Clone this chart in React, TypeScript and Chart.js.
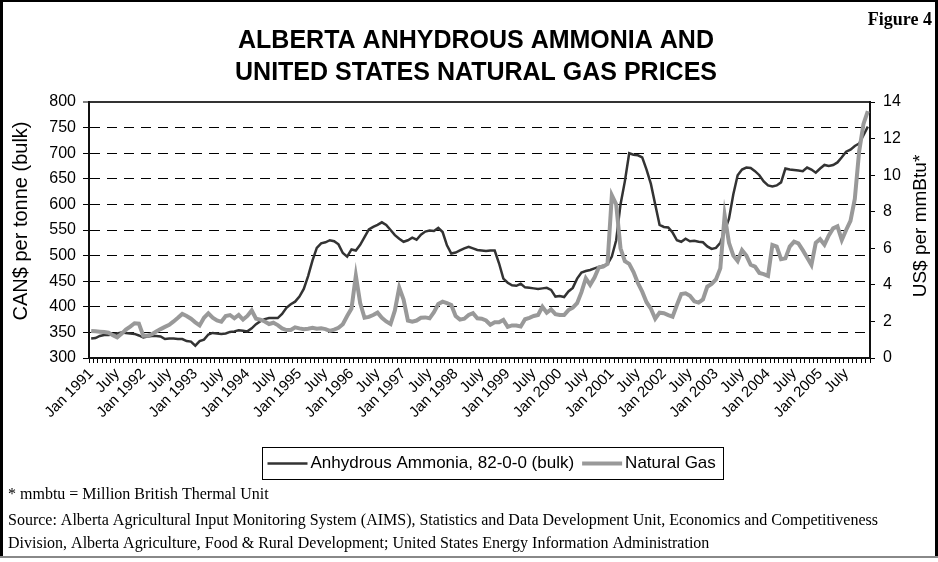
import React, { useEffect, useRef } from 'react';
import { Chart, registerables } from 'chart.js';

Chart.register(...registerables);

const W = 938;
const H = 562;

const YEARS = [1991, 1992, 1993, 1994, 1995, 1996, 1997, 1998, 1999, 2000, 2001, 2002, 2003, 2004, 2005];
const MONTHS = ['Jan', 'Feb', 'Mar', 'Apr', 'May', 'Jun', 'July', 'Aug', 'Sep', 'Oct', 'Nov', 'Dec'];
const CATEGORIES = YEARS.flatMap((y) => MONTHS.map((m) => `${m} ${y}`));

// Anhydrous Ammonia, CAN$ per tonne (bulk), monthly Jan 1991 - Dec 2005
const AMMONIA = [
  338, 339, 343, 345, 345, 346, 348, 350, 349, 348, 347, 344, // 1991
  340, 342, 343, 343, 342, 337, 338, 338, 337, 337, 333, 332, // 1992
  324, 333, 336, 346, 349, 348, 347, 348, 351, 352, 354, 353, // 1993
  352, 358, 366, 372, 376, 378, 378, 378, 386, 398, 405, 410, // 1994
  420, 435, 460, 490, 515, 524, 526, 530, 528, 522, 505, 498, // 1995
  512, 510, 521, 536, 551, 556, 560, 565, 560, 550, 540, 533, // 1996
  527, 530, 535, 531, 541, 547, 549, 548, 554, 546, 520, 504, // 1997
  506, 510, 514, 517, 514, 511, 510, 509, 510, 510, 485, 455, // 1998
  447, 442, 441, 445, 438, 437, 436, 435, 436, 437, 433, 420, // 1999
  421, 419, 430, 437, 455, 467, 470, 472, 475, 478, 480, 483, // 2000
  498, 530, 600, 645, 700, 697, 696, 692, 668, 640, 600, 560, // 2001
  556, 555, 545, 530, 527, 533, 528, 529, 527, 526, 518, 513, // 2002
  515, 525, 548, 572, 620, 657, 668, 672, 671, 665, 657, 645, // 2003
  637, 635, 637, 643, 670, 668, 667, 666, 665, 672, 668, 662, // 2004
  670, 677, 675, 677, 682, 692, 703, 707, 714, 719, 735, 752, // 2005
];

// Natural Gas, US$ per mmBtu, monthly Jan 1991 - Dec 2005
const GAS = [
  1.48, 1.46, 1.44, 1.42, 1.38, 1.25, 1.13, 1.32, 1.55, 1.72, 1.9, 1.88, // 1991
  1.22, 1.22, 1.3, 1.45, 1.58, 1.7, 1.81, 2.0, 2.2, 2.41, 2.3, 2.15, // 1992
  1.95, 1.78, 2.2, 2.44, 2.2, 2.05, 1.98, 2.3, 2.35, 2.17, 2.35, 2.1, // 1993
  2.3, 2.6, 2.15, 2.1, 2.0, 1.86, 1.93, 1.8, 1.62, 1.53, 1.53, 1.68, // 1994
  1.62, 1.57, 1.6, 1.65, 1.6, 1.62, 1.58, 1.48, 1.55, 1.65, 1.85, 2.3, // 1995
  2.7, 4.5, 3.0, 2.2, 2.25, 2.35, 2.48, 2.2, 2.0, 1.86, 2.6, 3.85, // 1996
  3.2, 2.05, 1.99, 2.05, 2.2, 2.22, 2.17, 2.5, 2.95, 3.08, 3.0, 2.9, // 1997
  2.3, 2.1, 2.15, 2.35, 2.45, 2.17, 2.15, 2.05, 1.82, 1.95, 1.95, 2.08, // 1998
  1.7, 1.78, 1.78, 1.72, 2.12, 2.2, 2.3, 2.35, 2.8, 2.48, 2.66, 2.4, // 1999
  2.35, 2.35, 2.62, 2.75, 3.0, 3.6, 4.36, 4.0, 4.4, 4.95, 5.0, 5.15, // 2000
  8.9, 8.4, 6.0, 5.3, 5.15, 4.7, 4.1, 3.63, 3.05, 2.7, 2.15, 2.48, // 2001
  2.45, 2.35, 2.26, 2.9, 3.5, 3.54, 3.4, 3.1, 3.03, 3.2, 3.9, 4.05, // 2002
  4.3, 4.9, 7.8, 6.3, 5.6, 5.3, 5.9, 5.6, 5.1, 5.0, 4.65, 4.59, // 2003
  4.49, 6.18, 6.09, 5.4, 5.45, 6.09, 6.36, 6.27, 5.9, 5.5, 5.09, 6.3, // 2004
  6.5, 6.2, 6.7, 7.09, 7.2, 6.45, 7.0, 7.5, 8.7, 11.3, 12.8, 13.5, // 2005
];

const LEFT_MIN = 300;
const LEFT_MAX = 800;
const LEFT_STEP = 50;
const RIGHT_MIN = 0;
const RIGHT_MAX = 14;
const RIGHT_STEP = 2;

const TITLE_LINES = ['ALBERTA ANHYDROUS AMMONIA AND', 'UNITED STATES NATURAL GAS PRICES'];
const FIGURE_LABEL = 'Figure 4';
const LEFT_AXIS_TITLE = 'CAN$ per tonne (bulk)';
const RIGHT_AXIS_TITLE = 'US$ per mmBtu*';
const SERIES_NAMES = ['Anhydrous Ammonia, 82-0-0 (bulk)', 'Natural Gas'];
const FOOTNOTES = [
  '* mmbtu = Million British Thermal Unit',
  'Source: Alberta Agricultural Input Monitoring System (AIMS), Statistics and Data Development Unit, Economics and Competitiveness',
  'Division, Alberta Agriculture, Food & Rural Development; United States Energy Information Administration',
];

const AMMONIA_COLOR = '#333333';
const GAS_COLOR = '#999999';
const SANS = '"Liberation Sans", Arial, Helvetica, sans-serif';
const SERIF = '"Liberation Serif", "Times New Roman", serif';

function tickLabel(index: number): string {
  const m = index % 12;
  const y = YEARS[Math.floor(index / 12)];
  if (m === 0) return `Jan ${y}`;
  if (m === 6) return 'July';
  return '';
}

type TextOpts = {
  align?: CanvasTextAlign;
  baseline?: CanvasTextBaseline;
  rotate?: number;
  width?: number;
  color?: string;
};

function drawText(ctx: CanvasRenderingContext2D, text: string, x: number, y: number, font: string, o: TextOpts = {}) {
  ctx.save();
  ctx.font = font;
  ctx.fillStyle = o.color || '#000';
  ctx.textAlign = o.align || 'left';
  ctx.textBaseline = o.baseline || 'middle';
  ctx.translate(x, y);
  if (o.rotate) ctx.rotate(o.rotate);
  if (o.width) {
    const w = ctx.measureText(text).width;
    if (w > 0) ctx.scale(o.width / w, 1);
  }
  ctx.fillText(text, 0, 0);
  ctx.restore();
}

const decorPlugin = {
  id: 'decor',
  beforeDraw(chart: any) {
    const ctx = chart.ctx as CanvasRenderingContext2D;
    ctx.save();
    ctx.fillStyle = '#ffffff';
    ctx.fillRect(0, 0, chart.width, chart.height);
    ctx.restore();
  },
  afterDraw(chart: any) {
    const ctx = chart.ctx as CanvasRenderingContext2D;
    ctx.save();
    ctx.fillStyle = '#000';
    ctx.fillRect(0, 0, 3, 558);
    ctx.fillRect(0, 0, W, 2);
    ctx.fillRect(W - 3, 0, 3, 558);
    ctx.fillStyle = '#888';
    ctx.fillRect(0, 556, W, 2);
    ctx.restore();

    drawText(ctx, TITLE_LINES[0], 476, 41, `bold 25px ${SANS}`, { align: 'center' });
    drawText(ctx, TITLE_LINES[1], 476, 73, `bold 25px ${SANS}`, { align: 'center' });
    drawText(ctx, FIGURE_LABEL, 932, 20, `bold 18px ${SERIF}`, { align: 'right' });
    drawText(ctx, LEFT_AXIS_TITLE, 21, 221, `20px ${SANS}`, { align: 'center', rotate: -Math.PI / 2 });
    drawText(ctx, RIGHT_AXIS_TITLE, 921, 226, `19px ${SANS}`, { align: 'center', rotate: -Math.PI / 2 });

    // legend
    const lf = `17px ${SANS}`;
    ctx.save();
    ctx.font = lf;
    const w1 = ctx.measureText(SERIES_NAMES[0]).width;
    const w2 = ctx.measureText(SERIES_NAMES[1]).width;
    ctx.restore();
    const padL = 5, line = 40, gapT = 3, gapI = 8, padR = 8;
    const total = padL + line + gapT + w1 + gapI + line + gapT + w2 + padR;
    const cx = 493;
    const bx = Math.round(cx - total / 2) + 0.5;
    const by = 447.5;
    const bh = 32;
    const my = by + bh / 2;
    ctx.save();
    ctx.strokeStyle = '#000';
    ctx.lineWidth = 1;
    ctx.strokeRect(bx, by, Math.round(total), bh);
    let x = bx + padL;
    ctx.strokeStyle = AMMONIA_COLOR;
    ctx.lineWidth = 2.5;
    ctx.beginPath();
    ctx.moveTo(x, my);
    ctx.lineTo(x + line, my);
    ctx.stroke();
    x += line + gapT;
    ctx.restore();
    drawText(ctx, SERIES_NAMES[0], x, my, lf);
    x += w1 + gapI;
    ctx.save();
    ctx.strokeStyle = GAS_COLOR;
    ctx.lineWidth = 4;
    ctx.beginPath();
    ctx.moveTo(x, my);
    ctx.lineTo(x + line, my);
    ctx.stroke();
    ctx.restore();
    x += line + gapT;
    drawText(ctx, SERIES_NAMES[1], x, my, lf);

    drawText(ctx, FOOTNOTES[0], 8, 495, `16px ${SERIF}`);
    drawText(ctx, FOOTNOTES[1], 8, 521, `16px ${SERIF}`, { width: 870 });
    drawText(ctx, FOOTNOTES[2], 8, 544, `16px ${SERIF}`);
  },
};

export default function App() {
  const canvasRef = useRef<HTMLCanvasElement | null>(null);

  useEffect(() => {
    const canvas = canvasRef.current;
    if (!canvas) return;
    const chart = new Chart(canvas, {
      type: 'line',
      data: {
        labels: CATEGORIES,
        datasets: [
          {
            label: SERIES_NAMES[0],
            data: AMMONIA,
            borderColor: AMMONIA_COLOR,
            borderWidth: 2.5,
            pointRadius: 0,
            tension: 0,
            fill: false,
            yAxisID: 'y',
            order: 1,
          },
          {
            label: SERIES_NAMES[1],
            data: GAS,
            borderColor: GAS_COLOR,
            borderWidth: 4,
            pointRadius: 0,
            tension: 0,
            fill: false,
            yAxisID: 'y2',
            order: 0,
          },
        ],
      },
      plugins: [decorPlugin],
      options: {
        responsive: false,
        animation: false,
        devicePixelRatio: 1,
        layout: { padding: { top: 102, left: 0, right: 0, bottom: 0 } },
        plugins: {
          legend: { display: false },
          title: { display: false },
          tooltip: { enabled: false },
        },
        scales: {
          x: {
            type: 'category',
            offset: true,
            afterFit: (s: any) => {
              s.height = H - 358;
            },
            grid: {
              offset: true,
              drawOnChartArea: false,
              drawTicks: true,
              tickLength: 5,
              color: '#000',
              lineWidth: 1,
            },
            border: { display: true, color: '#111', width: 2 },
            ticks: {
              autoSkip: false,
              maxRotation: 45,
              minRotation: 45,
              padding: 2,
              color: '#000',
              font: { family: SANS, size: 15 },
              callback: (_v: any, index: number) => tickLabel(index),
            },
          },
          y: {
            type: 'linear',
            position: 'left',
            min: LEFT_MIN,
            max: LEFT_MAX,
            afterFit: (s: any) => {
              s.width = 89;
            },
            grid: {
              drawOnChartArea: true,
              drawTicks: true,
              tickLength: 6,
              color: (c: any) => (c.tick && c.tick.value === LEFT_MAX ? '#333' : '#000'),
              lineWidth: (c: any) => (c.tick && c.tick.value === LEFT_MAX ? 2 : 1),
              tickColor: '#000',
              tickWidth: 1,
            },
            border: {
              display: true,
              color: '#111',
              width: 2,
              dash: (c: any) => (c.tick && c.tick.value !== LEFT_MAX && c.tick.value !== LEFT_MIN ? [10, 7] : []),
            },
            ticks: {
              stepSize: LEFT_STEP,
              padding: 7,
              color: '#000',
              font: { family: SANS, size: 16 },
            },
          },
          y2: {
            type: 'linear',
            position: 'right',
            min: RIGHT_MIN,
            max: RIGHT_MAX,
            afterFit: (s: any) => {
              s.width = W - 870;
            },
            grid: {
              drawOnChartArea: false,
              drawTicks: true,
              tickLength: 5,
              color: '#000',
              lineWidth: 1,
            },
            border: { display: true, color: '#111', width: 2 },
            ticks: {
              stepSize: RIGHT_STEP,
              padding: 8,
              color: '#000',
              font: { family: SANS, size: 16 },
            },
          },
        },
      },
    } as any);
    return () => {
      chart.destroy();
    };
  }, []);

  return (
    <div style={{ position: 'fixed', left: 0, top: 0, width: W, height: H, background: '#fff' }}>
      <canvas ref={canvasRef} width={W} height={H} style={{ width: W, height: H, display: 'block' }} />
    </div>
  );
}
